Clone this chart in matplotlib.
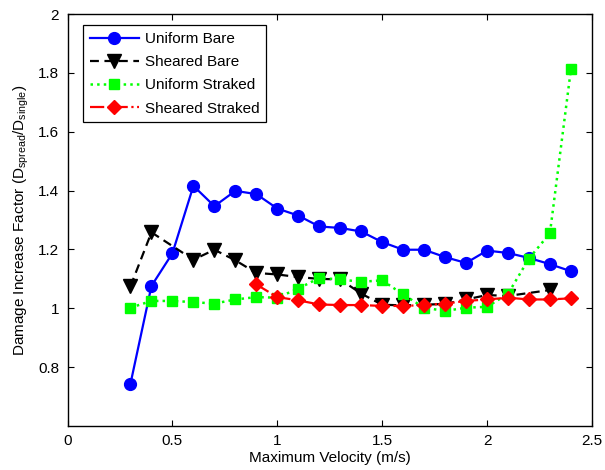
import numpy as np
import matplotlib
matplotlib.use("Agg")
import matplotlib.pyplot as plt

plt.rcParams['font.family'] = ['Liberation Sans', 'DejaVu Sans']

# Velocidades máximas (m/s)
v_uniform_bare = [0.3, 0.4, 0.5, 0.6, 0.7, 0.8, 0.9, 1.0, 1.1, 1.2, 1.3,
                  1.4, 1.5, 1.6, 1.7, 1.8, 1.9, 2.0, 2.1, 2.2, 2.3, 2.4]
dif_uniform_bare = [0.744, 1.076, 1.187, 1.416, 1.347, 1.399, 1.388, 1.339,
                    1.315, 1.278, 1.273, 1.261, 1.225, 1.199, 1.199, 1.174,
                    1.154, 1.196, 1.188, 1.171, 1.150, 1.126]

v_sheared_bare = [0.3, 0.4, 0.6, 0.7, 0.8, 0.9, 1.0, 1.1, 1.2, 1.3, 1.4,
                  1.5, 1.6, 1.7, 1.8, 1.9, 2.0, 2.1, 2.3]
dif_sheared_bare = [1.075, 1.258, 1.165, 1.199, 1.163, 1.120, 1.115, 1.106,
                    1.100, 1.098, 1.050, 1.012, 1.010, 1.012, 1.015, 1.030,
                    1.045, 1.042, 1.062]

v_uniform_straked = [0.3, 0.4, 0.5, 0.6, 0.7, 0.8, 0.9, 1.0, 1.1, 1.2, 1.3,
                     1.4, 1.5, 1.6, 1.7, 1.8, 1.9, 2.0, 2.1, 2.2, 2.3, 2.4]
dif_uniform_straked = [1.002, 1.025, 1.025, 1.021, 1.016, 1.030, 1.038, 1.036,
                       1.067, 1.103, 1.098, 1.090, 1.095, 1.047, 1.002, 0.991,
                       1.002, 1.005, 1.049, 1.169, 1.255, 1.812]

v_sheared_straked = [0.9, 1.0, 1.1, 1.2, 1.3, 1.4, 1.5, 1.6, 1.7, 1.8, 1.9,
                     2.0, 2.1, 2.2, 2.3, 2.4]
dif_sheared_straked = [1.081, 1.038, 1.027, 1.013, 1.011, 1.011, 1.008, 1.008,
                       1.011, 1.016, 1.025, 1.030, 1.036, 1.030, 1.030, 1.034]

fig = plt.figure(figsize=(6.05, 4.70), dpi=100)
ax = fig.add_axes([0.1117, 0.0936, 0.8666, 0.8766])

ax.plot(v_uniform_bare, dif_uniform_bare, '-o', color='#0000ff', lw=1.6,
        ms=8.5, label='Uniform Bare')
ax.plot(v_sheared_bare, dif_sheared_bare, '--v', color='black', lw=1.6,
        ms=9.5, dashes=(4, 2.5), label='Sheared Bare')
ax.plot(v_uniform_straked, dif_uniform_straked, ':s', color='#00ff00', lw=1.8,
        ms=7.5, label='Uniform Straked')
ax.plot(v_sheared_straked, dif_sheared_straked, '-.D', color='#ff0000', lw=1.6,
        ms=7, label='Sheared Straked')

ax.set_xlim(0, 2.5)
ax.set_ylim(0.6, 2.0)
ax.set_xticks([0, 0.5, 1, 1.5, 2, 2.5])
ax.set_xticklabels(['0', '0.5', '1', '1.5', '2', '2.5'])
ax.set_yticks([0.8, 1.0, 1.2, 1.4, 1.6, 1.8, 2.0])
ax.set_yticklabels(['0.8', '1', '1.2', '1.4', '1.6', '1.8', '2'])
ax.tick_params(direction='in', top=True, right=True, length=4, width=0.8,
               labelsize=11, pad=6)
for s in ax.spines.values():
    s.set_linewidth(1.0)

ax.set_xlabel('Maximum Velocity (m/s)', fontsize=11, labelpad=2)
ax.set_ylabel(r'Damage Increase Factor (D$_{\mathregular{spread}}$/D$_{\mathregular{single}}$)',
              fontsize=11, labelpad=5)

leg = ax.legend(loc='upper left', bbox_to_anchor=(0.029, 0.973), fontsize=11,
                borderaxespad=0, fancybox=False, framealpha=1,
                edgecolor='black', handlelength=3.2, borderpad=0.45,
                labelspacing=0.6, handletextpad=0.4)
leg.get_frame().set_linewidth(0.9)

fig.savefig('out.png', dpi=100)
